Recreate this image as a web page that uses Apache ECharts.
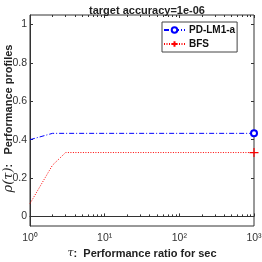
<!DOCTYPE html>
<html><head><meta charset="utf-8">
<script src="https://cdn.jsdelivr.net/npm/echarts@6/dist/echarts.min.js"></script>
<style>html,body{margin:0;padding:0;background:#fff}#c{width:262px;height:262px}</style>
</head><body><div id="c"></div>
<script>
const titleText = 'target accuracy=1e-06';
const seriesNames = ['PD-LM1-a', 'BFS'];
const tauPD = [1, 2, 1000];
const rhoPD = [0.4, 0.433, 0.433];
const tauBFS = [1, 2, 3, 1000];
const rhoBFS = [0.067, 0.267, 0.333, 0.333];
const yTicks = [0, 0.2, 0.4, 0.6, 0.8, 1];
const xMajorTicks = [1, 10, 100, 1000];
const xMinorTicks = [2, 3, 4, 5, 6, 7, 8, 9, 20, 30, 40, 50, 60, 70, 80, 90, 200, 300, 400, 500, 600, 700, 800, 900];

const font = '"Liberation Sans", Arial, sans-serif';
const chart = echarts.init(document.getElementById('c'));
const supMap = {'0':'⁰','1':'¹','2':'²','3':'³'};
function lastOnly(xs, ys){
  return xs.map((x,i)=> i === xs.length - 1 ? {value: [x, ys[i]]} : {value: [x, ys[i]], symbol: 'none'});
}
const tickCol = '#333';
function xAx(pos, ticks, len, labels){
  return {
    type: 'log', logBase: 10, min: 1, max: 1000, position: pos,
    axisLine: {show: pos === 'bottom' && labels, lineStyle: {color: tickCol}},
    splitLine: {show: false},
    axisTick: {show: true, inside: true, length: len, customValues: ticks, lineStyle: {color: tickCol}},
    axisLabel: labels ? {show: true, customValues: xMajorTicks, fontFamily: font, fontSize: 10.5, color: '#333', margin: 7,
      formatter: v => '10' + String(Math.round(Math.log10(v))).split('').map(c=>supMap[c]).join('')} : {show: false}
  };
}
chart.setOption({
  animation: false,
  title: {text: titleText, left: 142, textAlign: 'center', top: 0, textStyle: {fontFamily: font, fontSize: 11, fontWeight: 'bold', color: '#222'}},
  grid: {left: 30, right: 8, top: 15, bottom: 36, show: true, borderColor: '#333', borderWidth: 1, outerBoundsMode: 'none', containLabel: false},
  legend: {
    left: 162, top: 22, orient: 'vertical', backgroundColor: '#fff', borderColor: '#444', borderWidth: 1,
    padding: [3, 2, 3, 1], itemGap: 4, itemWidth: 21, itemHeight: 7,
    textStyle: {fontFamily: font, fontSize: 10, fontWeight: 'bold', color: '#111', padding: [0,0,0,-1]},
    data: seriesNames
  },
  xAxis: [
    Object.assign(xAx('bottom', xMajorTicks, 3, true), {
      name: '{i|τ}:  Performance ratio for sec', nameLocation: 'middle', nameGap: 22, nameMoveOverlap: false,
      nameTextStyle: {fontFamily: font, fontSize: 11, fontWeight: 'bold', color: '#222',
        rich: {i: {fontFamily: '"DejaVu Serif", serif', fontStyle: 'italic', fontWeight: 'normal', fontSize: 11}}}
    }),
    xAx('bottom', xMinorTicks, 2, false),
    xAx('top', xMajorTicks, 3, false),
    xAx('top', xMinorTicks, 2, false)
  ],
  yAxis: [{
    type: 'value', min: -0.05, max: 1.05,
    name: '{i|ρ(τ)}:   Performance profiles', nameLocation: 'middle', nameGap: 15, nameMoveOverlap: false,
    nameTextStyle: {fontFamily: font, fontSize: 11, fontWeight: 'bold', color: '#222', padding: [0, 0, 0, 4],
      rich: {i: {fontFamily: '"DejaVu Serif", serif', fontStyle: 'italic', fontWeight: 'normal', fontSize: 13}}},
    axisLine: {show: true, lineStyle: {color: '#333'}},
    axisTick: {show: true, inside: true, length: 3, customValues: yTicks, lineStyle: {color: '#333'}},
    splitLine: {show: false},
    axisLabel: {fontFamily: font, fontSize: 10.5, color: '#333', margin: 3, customValues: yTicks,
      formatter: v => String(Math.round(v*10)/10)}
  }, {
    type: 'value', min: -0.05, max: 1.05, position: 'right',
    axisLine: {show: false}, axisLabel: {show: false}, splitLine: {show: false},
    axisTick: {show: true, inside: true, length: 3, customValues: yTicks, lineStyle: {color: '#333'}}
  }],
  series: [{
    name: seriesNames[0], type: 'line', data: lastOnly(tauPD, rhoPD),
    lineStyle: {color: '#0000ff', width: 1, type: [5, 2, 1, 2]},
    itemStyle: {color: '#0000ff', borderColor: '#0000ff', borderWidth: 1},
    symbol: 'emptyCircle', symbolSize: 6, showAllSymbol: true
  }, {
    name: seriesNames[1], type: 'line', data: lastOnly(tauBFS, rhoBFS),
    lineStyle: {color: '#ff0000', width: 1, type: [1, 1.5]},
    symbol: 'path://M0,5L10,5M5,0L5,10', symbolSize: 9, showAllSymbol: true,
    itemStyle: {color: '#ff0000', borderColor: '#ff0000', borderWidth: 1.2}
  }]
});
</script></body></html>
